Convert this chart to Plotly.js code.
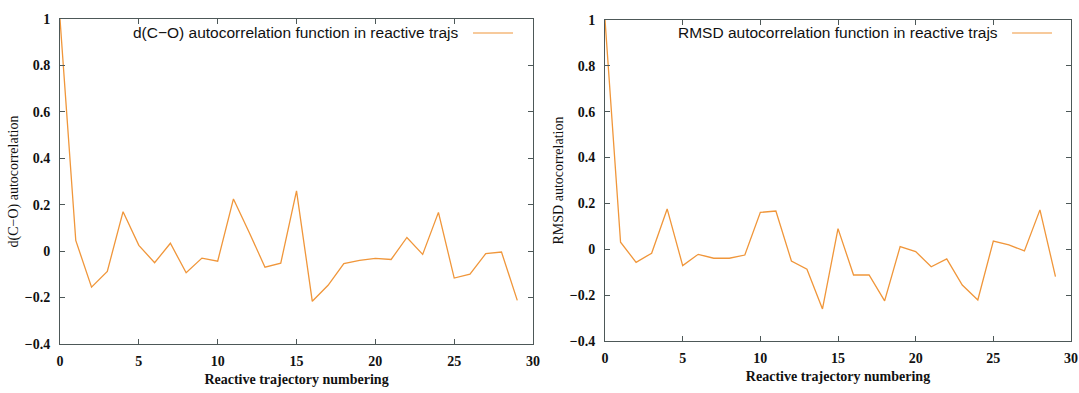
<!DOCTYPE html>
<html>
<head>
<meta charset="utf-8">
<script src="https://cdn.plot.ly/plotly-3.0.1.min.js"></script>
<style>html,body{margin:0;padding:0;background:#fff;}#chart{width:1079px;height:393px;}</style>
</head>
<body>
<div id="chart"></div>
<script>
const trajIndex = [0,1,2,3,4,5,6,7,8,9,10,11,12,13,14,15,16,17,18,19,20,21,22,23,24,25,26,27,28,29];
const dcoAutocorr = [1.0,0.046,-0.155,-0.087,0.17,0.025,-0.05,0.034,-0.093,-0.03,-0.043,0.225,0.08,-0.069,-0.052,0.26,-0.216,-0.147,-0.054,-0.04,-0.031,-0.036,0.059,-0.014,0.167,-0.116,-0.099,-0.011,-0.004,-0.212];
const rmsdAutocorr = [1.0,0.031,-0.057,-0.017,0.176,-0.071,-0.022,-0.039,-0.039,-0.025,0.161,0.167,-0.051,-0.087,-0.26,0.09,-0.112,-0.112,-0.225,0.012,-0.01,-0.076,-0.042,-0.156,-0.221,0.036,0.019,-0.007,0.172,-0.119];
const legendLeft = "d(C\u2212O) autocorrelation function in reactive trajs";
const legendRight = "RMSD autocorrelation function in reactive trajs";
const xTitle = "Reactive trajectory numbering";
const yTitleLeft = "d(C\u2212O) autocorrelation";
const yTitleRight = "RMSD autocorrelation";

const lineColor = "#f0963a";
const frameColor = "#4d5858";
const tickFont = {family: "Liberation Serif", size: 14, color: "#111", weight: 700};
const titleFont = {family: "Liberation Serif", size: 14, color: "#111"};
const legendFont = {family: "Liberation Sans, Arial, sans-serif", size: 15.5, color: "#111"};

const traces = [
  {x: trajIndex, y: dcoAutocorr, type: "scatter", mode: "lines", xaxis: "x", yaxis: "y",
   line: {color: lineColor, width: 1.3}, showlegend: false},
  {x: trajIndex, y: rmsdAutocorr, type: "scatter", mode: "lines", xaxis: "x2", yaxis: "y2",
   line: {color: lineColor, width: 1.3}, showlegend: false}
];

function xAxis(domain, anchor) {
  return {domain: domain, anchor: anchor, range: [0, 30], dtick: 5, tick0: 0,
    showgrid: false, zeroline: false, showline: true, mirror: "ticks", linecolor: frameColor, linewidth: 1,
    ticks: "inside", ticklen: 5, tickcolor: frameColor, tickfont: tickFont, ticklabelstandoff: 4,
    title: {text: "<b>" + xTitle + "</b>", font: titleFont, standoff: 6}};
}
function yAxis(domain, anchor, title) {
  return {domain: domain, anchor: anchor, range: [-0.4, 1], dtick: 0.2, tick0: 0,
    showgrid: false, zeroline: false, showline: true, mirror: "ticks", linecolor: frameColor, linewidth: 1,
    ticks: "inside", ticklen: 5, tickcolor: frameColor, tickfont: tickFont, ticklabelstandoff: 6,
    tickformat: "~g",
    title: {text: title, font: titleFont, standoff: 2}};
}

const layout = {
  width: 1079, height: 393,
  margin: {l: 60, r: 8, t: 19, b: 49},
  paper_bgcolor: "#fff", plot_bgcolor: "#fff",
  showlegend: false,
  xaxis: xAxis([0, 0.4679], "y"),
  yaxis: yAxis([0, 1], "x", yTitleLeft),
  xaxis2: xAxis([0.5391, 1], "y2"),
  yaxis2: yAxis([0.0092, 0.9969], "x2", yTitleRight),
  annotations: [
    {xref: "paper", yref: "paper", x: 0.3955, y: 0.957, xanchor: "right", yanchor: "middle",
     text: legendLeft, showarrow: false, font: legendFont},
    {xref: "paper", yref: "paper", x: 0.9298, y: 0.957, xanchor: "right", yanchor: "middle",
     text: legendRight, showarrow: false, font: legendFont}
  ],
  shapes: [
    {type: "line", xref: "paper", yref: "paper", x0: 0.4085, x1: 0.4481, y0: 0.957, y1: 0.957,
     line: {color: lineColor, width: 1.2}},
    {type: "line", xref: "paper", yref: "paper", x0: 0.9417, x1: 0.9812, y0: 0.957, y1: 0.957,
     line: {color: lineColor, width: 1.2}}
  ]
};

Plotly.newPlot("chart", traces, layout, {displayModeBar: false, staticPlot: true});
</script>
</body>
</html>
